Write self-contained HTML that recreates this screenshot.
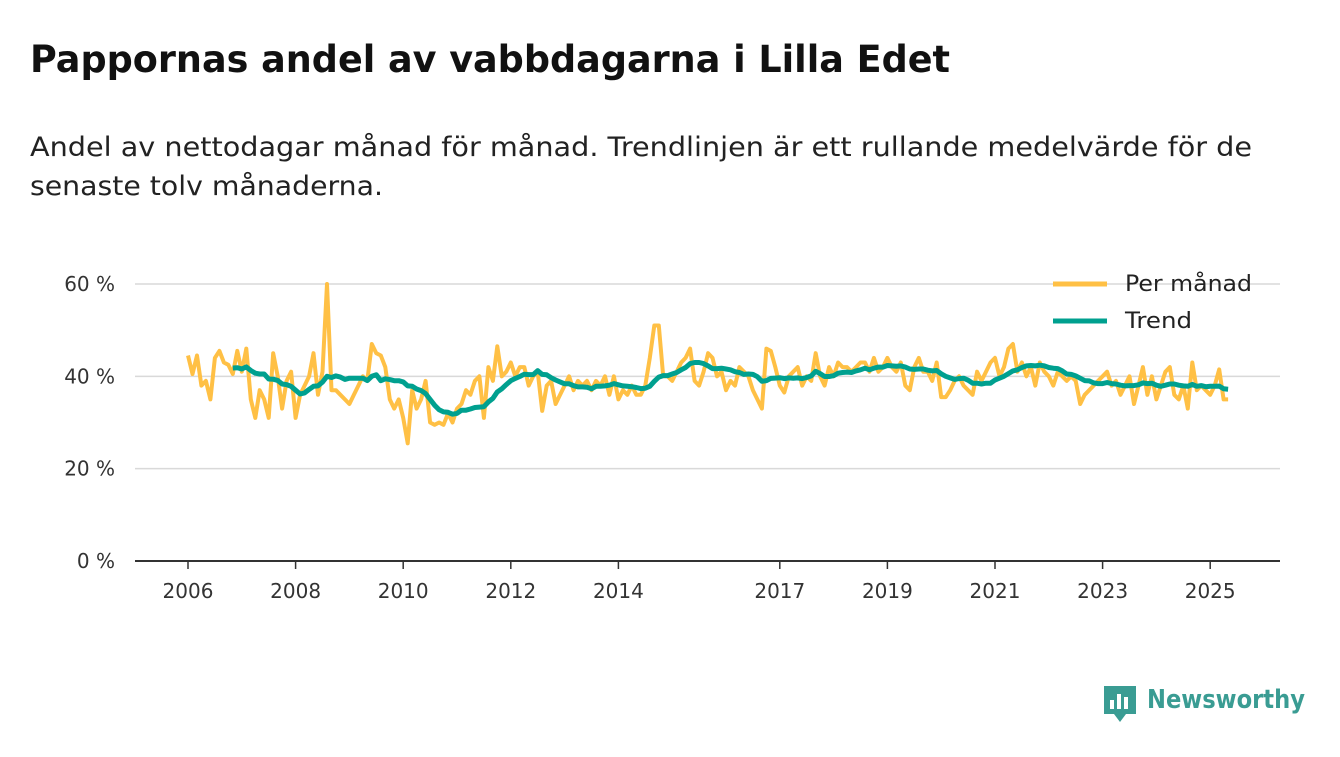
<!DOCTYPE html>
<html><head><meta charset="utf-8"><style>
body{margin:0;width:1340px;height:753px;background:#fff;font-family:"DejaVu Sans","Liberation Sans",sans-serif;overflow:hidden}
</style></head><body>
<svg width="1340" height="753" xmlns="http://www.w3.org/2000/svg">
<text x="30" y="72" font-size="37" font-weight="bold" fill="#111" textLength="920" lengthAdjust="spacingAndGlyphs">Pappornas andel av vabbdagarna i Lilla Edet</text>
<text x="30" y="156" font-size="27" fill="#222" textLength="1222" lengthAdjust="spacingAndGlyphs">Andel av nettodagar månad för månad. Trendlinjen är ett rullande medelvärde för de</text>
<text x="30" y="195" font-size="27" fill="#222" textLength="353" lengthAdjust="spacingAndGlyphs">senaste tolv månaderna.</text>
<g id="grid"></g><g id="xaxis"></g>
<g id="lines"></g>
<g>
<line x1="1053" y1="284" x2="1107" y2="284" stroke="#FFC045" stroke-width="5"/>
<text x="1125" y="291" font-size="22" fill="#222" textLength="127" lengthAdjust="spacingAndGlyphs">Per månad</text>
<line x1="1053" y1="321" x2="1107" y2="321" stroke="#00A08F" stroke-width="5"/>
<text x="1125" y="328" font-size="22" fill="#222" textLength="67" lengthAdjust="spacingAndGlyphs">Trend</text>
</g>
<g>
<path d="M1104 686h32v28h-10l-6 8-6-8h-10z" fill="#3a9c93"/>
<rect x="1110" y="700" width="4" height="9" fill="#fff"/><rect x="1117" y="694" width="4" height="15" fill="#fff"/><rect x="1124" y="697" width="4" height="12" fill="#fff"/>
<text x="1147" y="708" font-size="26" font-weight="bold" fill="#3a9c93" textLength="158" lengthAdjust="spacingAndGlyphs">Newsworthy</text>
</g>
</svg>
<script>
const yTicks=[0,20,40,60];
const yTickLabels=["0 %","20 %","40 %","60 %"];
const xTicks=[2006,2008,2010,2012,2014,2017,2019,2021,2023,2025];
const startYear=2006;
const monthly=[
44.5,40.5,44.5,38,39,35,44,45.5,43,42.5,40.5,45.5,
41,46,35,31,37,35,31,45,40,33,39,41,
31,36,38,40,45,36,41,60,37,37,36,35,
34,36,38,40,39,47,45,44.5,42,35,33,35,
31,25.5,37,33,35,39,30,29.5,30,29.5,32,30,
33,34,37,36,39,40,31,42,39,46.5,40,41,
43,40,42,42,38,40,41,32.5,38,39,34,36,
38,40,37,39,38,39,37,39,38,40,36,40,
35,37,36,38,36,36,38,44,51,51,40,40,
39,41,43,44,46,39,38,41,45,44,40,41,
37,39,38,42,41,40,37,35,33,46,45.5,42,
38,36.5,40,41,42,38,40,39,45,40,38,42,
40,43,42,42,41,42,43,43,41,44,41,42,
44,42,41,43,38,37,42,44,41,41,39,43,
35.5,35.5,37,39,40,38,37,36,41,39,41,43,
44,40,42,46,47,41,43,40,42,38,43,41,
40,38,41,40,39,40,39,34,36,37,38,39,
40,41,38,39,36,38,40,34,38,42,36,40,
35,38,41,42,36,35,38,33,43,37,38,37,
36,38,41.5,35,35];
const NS="http://www.w3.org/2000/svg";
const xs=t=>188+(t-startYear)*53.8;
const ys=v=>561-v*4.617;
function mk(tag,attrs,parent){const e=document.createElementNS(NS,tag);for(const k in attrs)e.setAttribute(k,attrs[k]);parent.appendChild(e);return e;}
const grid=document.getElementById('grid');
yTicks.forEach((v,i)=>{
 const l=mk('line',{x1:135,x2:1280,y1:ys(v),y2:ys(v),stroke:v===0?'#333':'#d9d9d9','stroke-width':v===0?2:1.5},grid);
 
 
 const t=mk('text',{x:115,y:ys(v)+7,'text-anchor':'end','font-size':20,fill:'#333'},grid);
 t.textContent=yTickLabels[i];
 
 
});
const xa=document.getElementById('xaxis');
xTicks.forEach(y=>{
 const l=mk('line',{x1:xs(y),x2:xs(y),y1:561,y2:569,stroke:'#333','stroke-width':1.5},xa);
 
 
 const t=mk('text',{x:xs(y),y:598,'text-anchor':'middle','font-size':20,fill:'#333'},xa);
 t.textContent=y;
 
 
});
const lines=document.getElementById('lines');
const mp=monthly.map((v,i)=>xs(startYear+i/12).toFixed(1)+','+ys(v).toFixed(1)).join(' ');
const p1=mk('polyline',{points:mp,fill:'none',stroke:'#FFC045','stroke-width':4,'stroke-linejoin':'round'},lines);


const tp=[];
for(let i=10;i<monthly.length;i++){let s=0;for(let j=i-11;j<=i;j++)s+=monthly[Math.max(j,0)];tp.push(xs(startYear+i/12).toFixed(1)+','+ys(s/12).toFixed(1));}
const p2=mk('polyline',{points:tp.join(' '),fill:'none',stroke:'#00A08F','stroke-width':5,'stroke-linejoin':'round'},lines);


</script>
</body></html>
